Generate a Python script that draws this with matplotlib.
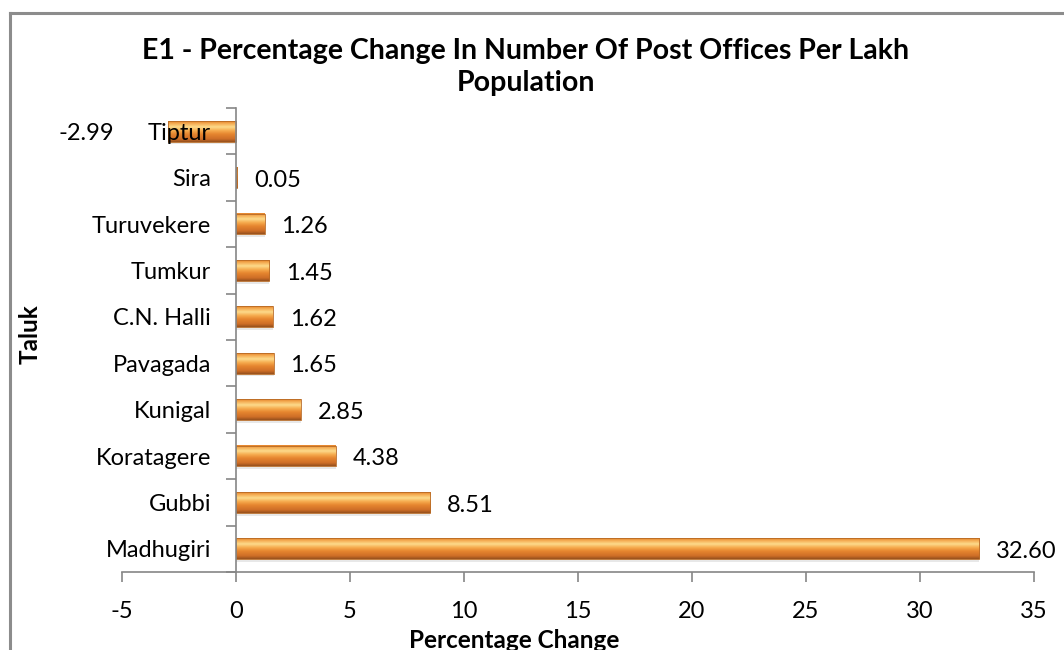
import matplotlib
matplotlib.use("Agg")
import matplotlib.pyplot as plt
import numpy as np
from matplotlib.colors import to_rgb
from matplotlib.lines import Line2D

categories = ["Tiptur", "Sira", "Turuvekere", "Tumkur", "C.N. Halli", "Pavagada",
              "Kunigal", "Koratagere", "Gubbi", "Madhugiri"]
values = [-2.99, 0.05, 1.26, 1.45, 1.62, 1.65, 2.85, 4.38, 8.51, 32.60]
xticks = [-5, 0, 5, 10, 15, 20, 25, 30, 35]

plt.rcParams['font.family'] = ['Lato', 'DejaVu Sans']

W, H = 1064, 650
fig = plt.figure(figsize=(W / 100, H / 100), dpi=100)
ax = fig.add_axes([122 / W, 1 - 572 / H, (1034 - 122) / W, (572 - 108) / H])
ax.set_axisbelow(False)

# figure border (top and left visible)
fig.add_artist(Line2D([10 / W, 10 / W], [0, 1 - 13 / H], color='#8c8c8c', lw=2.2, transform=fig.transFigure))
fig.add_artist(Line2D([10 / W, 1.0], [1 - 13 / H, 1 - 13 / H], color='#8c8c8c', lw=2.2, transform=fig.transFigure))

bar_h = 0.45
ypos = np.arange(len(categories))

# gradient for bevel look (top -> bottom)
stops = [(0.0, '#E4832B'), (0.12, '#F5AE55'), (0.28, '#FDDB8C'), (0.45, '#F6AB4E'),
         (0.62, '#E6862F'), (0.85, '#CF6F27'), (1.0, '#97511D')]
n = 64
t = np.linspace(0, 1, n)
pos = [s[0] for s in stops]
cols = np.array([to_rgb(s[1]) for s in stops])
grad = np.stack([np.interp(t, pos, cols[:, k]) for k in range(3)], axis=1).reshape(n, 1, 3)

for y, v in zip(ypos, values):
    x0, x1 = min(0, v), max(0, v)
    ax.barh(y + 0.06, v, height=bar_h, left=0, color='#d9d9d9', alpha=0.6, zorder=1, linewidth=0)
    ax.imshow(grad, extent=(x0, x1, y + bar_h / 2, y - bar_h / 2), aspect='auto',
              interpolation='bilinear', zorder=1.2, origin='upper')
    ax.barh(y, v, height=bar_h, left=0, facecolor='none', edgecolor='#B86A25', linewidth=0.6, zorder=1.4)

for y, v in zip(ypos, values):
    if v >= 0:
        ax.annotate(f"{v:.2f}", xy=(v, y), xytext=(12, -2), textcoords='offset points',
                    ha='left', va='center', fontsize=17, color='black')
    else:
        ax.annotate(f"{v:.2f}", xy=(v, y), xytext=(-39, -2), textcoords='offset points',
                    ha='right', va='center', fontsize=17, color='black')

ax.set_xlim(-5, 35)
ax.set_ylim(len(categories) - 0.5, -0.5)

gray = '#868686'
for s in ['top', 'right']:
    ax.spines[s].set_visible(False)
ax.spines['left'].set_position(('data', 0))
ax.spines['left'].set_color(gray)
ax.spines['bottom'].set_color(gray)
ax.spines['left'].set_linewidth(1.2)
ax.spines['bottom'].set_linewidth(1.2)

ax.set_yticks(ypos)
ax.set_yticklabels(categories)
ax.set_yticks(np.arange(-0.5, len(categories), 1), minor=True)
ax.tick_params(axis='y', which='major', length=0, pad=18, labelsize=17)
ax.tick_params(axis='y', which='minor', length=7, width=1.2, color=gray, direction='out')
ax.set_xticks(xticks)
ax.set_xticklabels([str(x) for x in xticks])
ax.tick_params(axis='x', which='major', length=7, width=1.2, color=gray, direction='out',
               pad=14, labelsize=17)

fig.text(526 / W, 1 - 51 / H, "E1 - Percentage Change In Number Of Post Offices Per Lakh",
         ha='center', va='center', fontsize=20.5, fontweight='bold')
fig.text(526 / W, 1 - 83 / H, "Population", ha='center', va='center', fontsize=20.5, fontweight='bold')
fig.text(30 / W, 1 - 334 / H, "Taluk", ha='center', va='center', rotation=90,
         fontsize=17.5, fontweight='bold')
fig.text(514 / W, 1 - 640 / H, "Percentage Change", ha='center', va='center',
         fontsize=17.5, fontweight='bold')

fig.savefig("out.png", dpi=100)
